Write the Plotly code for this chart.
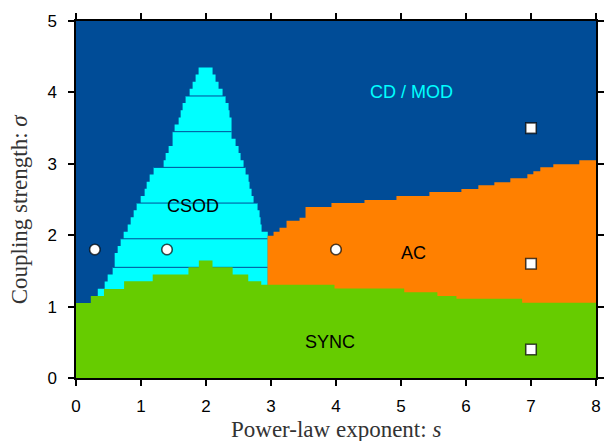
import plotly.graph_objects as go

# ---------------- data ----------------
# CSOD region: rows of height 0.1 in sigma, with left/right edge in s
csod_row_bottom = [1.15, 1.25, 1.35, 1.45, 1.55, 1.65, 1.75, 1.85, 1.95, 2.05,
                   2.15, 2.25, 2.35, 2.45, 2.55, 2.65, 2.75, 2.85, 2.95, 3.05,
                   3.15, 3.25, 3.35, 3.45, 3.55, 3.65, 3.75, 3.85, 3.95, 4.05,
                   4.15, 4.25]
csod_left = [0.335, 0.441, 0.487, 0.564, 0.595, 0.595, 0.641, 0.687, 0.733, 0.795,
             0.841, 0.887, 0.933, 0.995, 1.056, 1.087, 1.133, 1.194, 1.348, 1.379,
             1.425, 1.486, 1.486, 1.517, 1.579, 1.610, 1.640, 1.686, 1.748, 1.794,
             1.840, 1.886]
csod_right = [2.95, 2.95, 2.95, 2.95, 2.95, 2.95, 2.95, 2.95, 2.95, 2.855,
              2.839, 2.824, 2.793, 2.732, 2.701, 2.670, 2.655, 2.609, 2.578, 2.532,
              2.501, 2.455, 2.393, 2.393, 2.393, 2.362, 2.347, 2.301, 2.255, 2.193,
              2.147, 2.101]
csod_row_height = 0.1
csod_line_levels = [1.55, 1.95, 2.45, 2.95, 3.45, 3.95]

# AC region: upper boundary (step function starting at each s)
ac_s = [2.947, 3.039, 3.131, 3.239, 3.439, 3.531, 3.930, 4.438, 4.930, 5.437,
        5.929, 6.190, 6.436, 6.682, 6.944, 7.036, 7.143, 7.343, 7.743]
ac_top = [1.993, 2.049, 2.105, 2.202, 2.243, 2.396, 2.451, 2.493, 2.548, 2.604,
          2.646, 2.701, 2.743, 2.799, 2.854, 2.896, 2.951, 2.993, 3.048]

# SYNC region: upper boundary (step function starting at each s)
sync_s = [0.0, 0.228, 0.43, 0.74, 1.18, 1.73, 1.89, 2.10, 2.41, 2.65,
          2.85, 3.977, 5.05, 5.56, 5.853, 6.864]
sync_top = [1.05, 1.147, 1.245, 1.355, 1.45, 1.55, 1.645, 1.55, 1.45, 1.355,
            1.305, 1.255, 1.20, 1.147, 1.11, 1.054]

# marker points
circle_s = [0.29, 1.4, 4.0]
circle_sigma = [1.8, 1.8, 1.8]
square_s = [7.0, 7.0, 7.0]
square_sigma = [3.5, 1.6, 0.4]

# region labels
label_text = ["CD / MOD", "CSOD", "AC", "SYNC"]
label_s = [5.16, 1.80, 5.19, 3.90]
label_sigma = [4.0, 2.41, 1.75, 0.5]
label_color = ["#00FFFF", "#000000", "#000000", "#000000"]

x_ticks = [0, 1, 2, 3, 4, 5, 6, 7, 8]
y_ticks = [0, 1, 2, 3, 4, 5]
S_MAX = 8
SIGMA_MAX = 5

# ---------------- styling ----------------
BLUE = "#004C97"
CYAN = "#00FFFF"
ORANGE = "#FF8000"
GREEN = "#66CC00"

fig = go.Figure()

# CSOD polygon built from the rows
px, py = [], []
for b, l in zip(csod_row_bottom, csod_left):
    px += [l, l]
    py += [b, b + csod_row_height]
for b, r in zip(reversed(csod_row_bottom), reversed(csod_right)):
    px += [r, r]
    py += [b + csod_row_height, b]
fig.add_trace(go.Scatter(x=px, y=py, fill="toself", fillcolor=CYAN,
                         mode="lines", line=dict(width=0, color=CYAN),
                         hoverinfo="skip", showlegend=False))

# thin lines inside the CSOD region
lx, ly = [], []
for lvl in csod_line_levels:
    for b, l, r in zip(csod_row_bottom, csod_left, csod_right):
        if abs(b + csod_row_height - lvl) < 1e-6:
            lx += [l, r, None]
            ly += [lvl, lvl, None]
fig.add_trace(go.Scatter(x=lx, y=ly, mode="lines",
                         line=dict(width=1, color=BLUE),
                         hoverinfo="skip", showlegend=False))

# AC region
fig.add_trace(go.Scatter(x=ac_s + [S_MAX], y=ac_top + [ac_top[-1]],
                         fill="tozeroy", fillcolor=ORANGE, mode="lines",
                         line=dict(width=0, color=ORANGE, shape="hv"),
                         hoverinfo="skip", showlegend=False))

# SYNC region
fig.add_trace(go.Scatter(x=sync_s + [S_MAX], y=sync_top + [sync_top[-1]],
                         fill="tozeroy", fillcolor=GREEN, mode="lines",
                         line=dict(width=0, color=GREEN, shape="hv"),
                         hoverinfo="skip", showlegend=False))

# markers
fig.add_trace(go.Scatter(x=circle_s, y=circle_sigma, mode="markers",
                         marker=dict(symbol="circle", size=10.5, color="white",
                                     line=dict(width=1.6, color="rgba(0,0,0,0.7)")),
                         showlegend=False))
fig.add_trace(go.Scatter(x=square_s, y=square_sigma, mode="markers",
                         marker=dict(symbol="square", size=10.5, color="white",
                                     line=dict(width=1.6, color="rgba(0,0,0,0.7)")),
                         showlegend=False))

for t, xs, ys, c in zip(label_text, label_s, label_sigma, label_color):
    fig.add_annotation(x=xs, y=ys, xref="x", yref="y", text=t, showarrow=False,
                       font=dict(family="Liberation Sans", size=18, color=c),
                       xanchor="center", yanchor="middle")

# axis titles
fig.add_annotation(x=0.5, y=-0.143, xref="paper", yref="paper",
                   text="Power-law exponent: <i>s</i>", showarrow=False,
                   font=dict(family="Liberation Serif", size=23, color="#333333"),
                   xanchor="center", yanchor="middle")
fig.add_annotation(x=-0.108, y=0.475, xref="paper", yref="paper",
                   text="Coupling strength: <i>σ</i>", showarrow=False, textangle=-90,
                   font=dict(family="Liberation Serif", size=23, color="#333333"),
                   xanchor="center", yanchor="middle")

axis_common = dict(showgrid=False, zeroline=False, showline=True, linecolor="black",
                   linewidth=1.5, mirror="ticks", ticks="outside", ticklen=6,
                   tickwidth=1.5, tickcolor="black",
                   tickfont=dict(family="Liberation Sans", size=17, color="black"))

fig.update_layout(
    width=616, height=441,
    margin=dict(l=76, r=19, t=17, b=63),
    paper_bgcolor="white", plot_bgcolor=BLUE,
    showlegend=False,
    xaxis=dict(range=[0, S_MAX], tickvals=x_ticks, ticklabelstandoff=6, **axis_common),
    yaxis=dict(range=[0, SIGMA_MAX], tickvals=y_ticks, ticklabelstandoff=8, **axis_common),
)

fig.write_html("out.html")
